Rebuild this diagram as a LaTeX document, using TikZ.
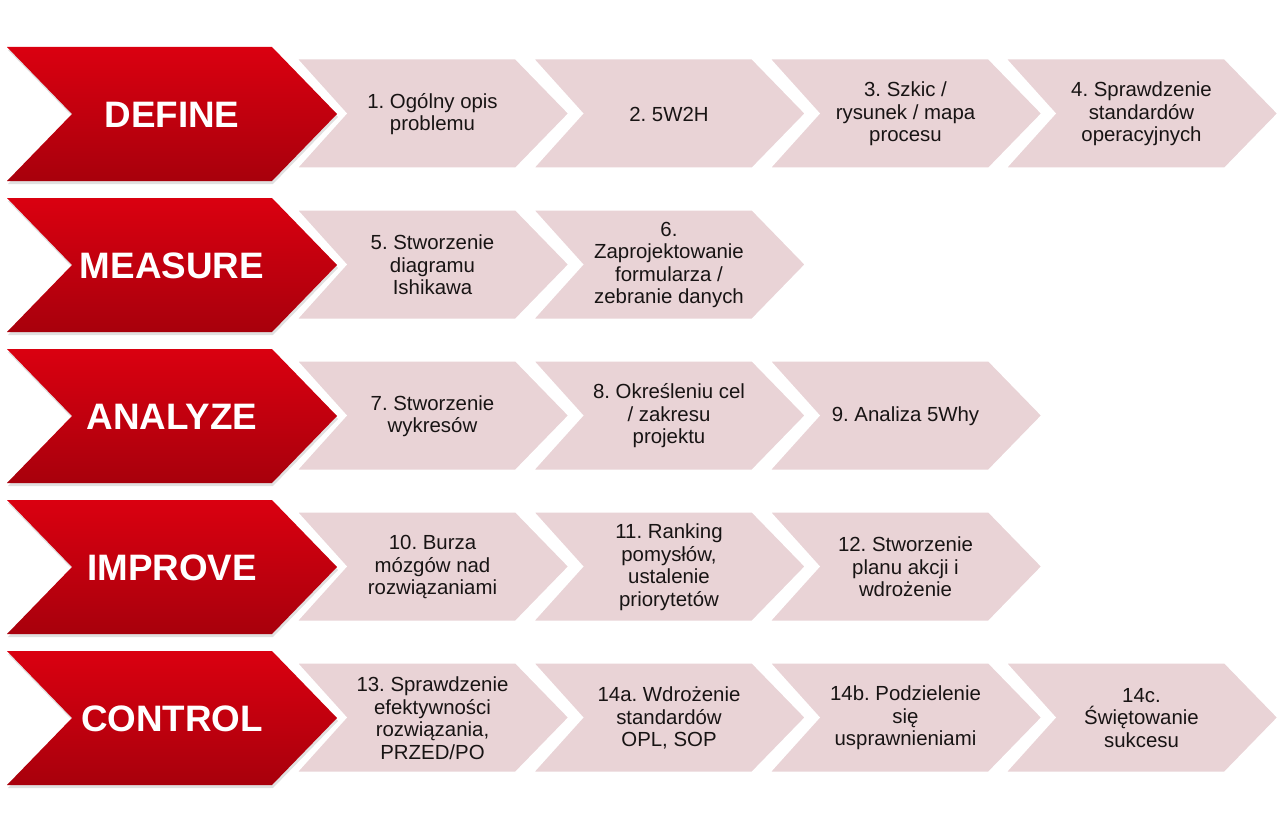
\documentclass[tikz,border=0pt]{standalone}
\usepackage{fontspec}
\setmainfont{Liberation Sans}
\frenchspacing
\definecolor{pinkfill}{RGB}{233,211,214}
\definecolor{redtop}{RGB}{218,0,16}
\definecolor{redbot}{RGB}{168,0,12}
\definecolor{txtdark}{RGB}{24,20,20}
\tikzset{
  redshape/.style={top color=redtop, bottom color=redbot},
  redshadow/.style={fill=black, opacity=0.12},
  pinkshape/.style={fill=pinkfill, draw=white, line width=3pt, line join=miter},
  redtxt/.style={text=white, font=\fontsize{36.8}{40}\selectfont\bfseries, inner sep=0pt, anchor=center},
  pinktxt/.style={text=txtdark, font=\fontsize{20.4}{22.5}\selectfont, align=center, inner sep=0pt, anchor=center}
}
% #1 top y, #2 name, #3 text
\newcommand\redchev[3]{%
  \fill[redshadow] (8,#1+3) -- (273,#1+3) -- (338,#1+70) -- (273,#1+137) -- (8,#1+137) -- (73,#1+70) -- cycle;
  \shade[redshape] (7,#1) -- (272,#1) -- (337,#1+67) -- (272,#1+134) -- (7,#1+134) -- (72,#1+67) -- cycle;
  \node[redtxt] (#2) at (172,#1+68) {#3};
}
% #1 left x, #2 top y, #3 name, #4 text
\newcommand\pinkchev[4]{%
  \path[pinkshape] (#1,#2) -- (#1+221,#2) -- (#1+275,#2+55.5) -- (#1+221,#2+111) -- (#1,#2+111) -- (#1+50,#2+55.5) -- cycle;
  \node[pinktxt] (#3) at (#1+137.5,#2+56) {#4};
}
\begin{document}
\begin{tikzpicture}[x=1pt,y=-1pt]
\useasboundingbox[fill=white] (0,0) rectangle (1280,832);
% Row 1
\pinkchev{295}{58}{p1}{1. Ogólny opis\\problemu}
\pinkchev{531.5}{58}{p2}{2. 5W2H}
\pinkchev{768}{58}{p3}{3. Szkic /\\rysunek / mapa\\procesu}
\pinkchev{1004}{58}{p4}{4. Sprawdzenie\\standardów\\operacyjnych}
\redchev{47}{define}{DEFINE}
% Row 2
\pinkchev{295}{209}{p5}{5. Stworzenie\\diagramu\\Ishikawa}
\pinkchev{531.5}{209}{p6}{6.\\Zaprojektowanie\\formularza /\\zebranie danych}
\redchev{198}{measure}{MEASURE}
% Row 3
\pinkchev{295}{360}{p7}{7. Stworzenie\\wykresów}
\pinkchev{531.5}{360}{p8}{8. Określeniu cel\\/ zakresu\\projektu}
\pinkchev{768}{360}{p9}{9. Analiza 5Why}
\redchev{349}{analyze}{ANALYZE}
% Row 4
\pinkchev{295}{511}{p10}{10. Burza\\mózgów nad\\rozwiązaniami}
\pinkchev{531.5}{511}{p11}{11. Ranking\\pomysłów,\\ustalenie\\priorytetów}
\pinkchev{768}{511}{p12}{12. Stworzenie\\planu akcji i\\wdrożenie}
\redchev{500}{improve}{IMPROVE}
% Row 5
\pinkchev{295}{662}{p13}{13. Sprawdzenie\\efektywności\\rozwiązania,\\PRZED/PO}
\pinkchev{531.5}{662}{p14a}{14a. Wdrożenie\\standardów\\OPL, SOP}
\pinkchev{768}{662}{p14b}{14b. Podzielenie\\się\\usprawnieniami}
\pinkchev{1004}{662}{p14c}{14c.\\Świętowanie\\sukcesu}
\redchev{651}{control}{CONTROL}
\end{tikzpicture}
\end{document}
